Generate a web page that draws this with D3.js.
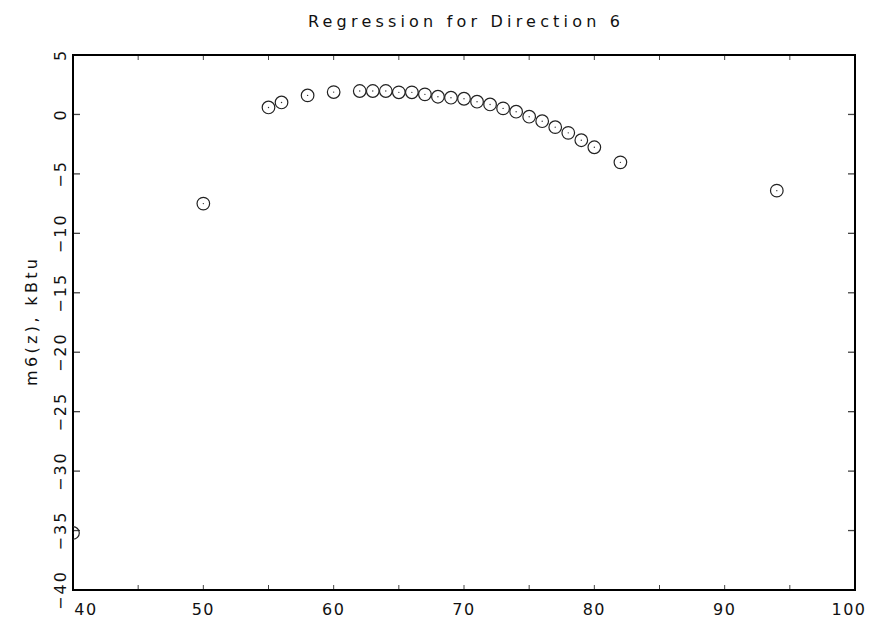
<!DOCTYPE html>
<html>
<head>
<meta charset="utf-8">
<script src="https://cdn.jsdelivr.net/npm/d3@7"></script>
<style>
  body { margin: 0; background: #fff; }
  text { font-family: "DejaVu Sans", sans-serif; fill: #111; }
</style>
</head>
<body>
<div id="chart"></div>
<script>
// data
var temps = [40, 50, 55, 56, 58, 60, 62, 63, 64, 65, 66, 67, 68, 69, 70, 71, 72, 73, 74, 75, 76, 77, 78, 79, 80, 82, 94];
var m6 = [-35.2, -7.5, 0.59, 1.01, 1.6, 1.88, 1.97, 1.97, 1.97, 1.86, 1.86, 1.69, 1.49, 1.41, 1.32, 1.07, 0.84, 0.51, 0.23,
          -0.19, -0.57, -1.07, -1.55, -2.17, -2.76, -4.03, -6.41];
var xTicks = [40, 50, 60, 70, 80, 90, 100];
var xMinor = [45, 55, 65, 75, 85, 95];
var yTicks = [-40, -35, -30, -25, -20, -15, -10, -5, 0, 5];
var title = "Regression for Direction 6";
var yTitle = "m6(z), kBtu";

var W = 877, H = 621;
var pLeft = 73, pRight = 855, pTop = 55, pBottom = 590;

var svg = d3.select("#chart").append("svg")
    .attr("width", W)
    .attr("height", H);

var x = d3.scaleLinear().domain([40, 100]).range([pLeft, pRight]);
var y = d3.scaleLinear().domain([-40, 5]).range([pBottom, pTop]);

svg.append("clipPath").attr("id", "clip")
  .append("rect")
    .attr("x", pLeft).attr("y", pTop)
    .attr("width", pRight - pLeft).attr("height", pBottom - pTop);

// ticks, all pointing inward
var tickCol = "#444";
xTicks.concat(xMinor).forEach(function(t) {
  svg.append("line").attr("x1", x(t)).attr("x2", x(t)).attr("y1", pBottom).attr("y2", pBottom - 5)
    .attr("stroke", tickCol).attr("stroke-width", 1);
  svg.append("line").attr("x1", x(t)).attr("x2", x(t)).attr("y1", pTop).attr("y2", pTop + 5)
    .attr("stroke", tickCol).attr("stroke-width", 1);
});
yTicks.forEach(function(t) {
  svg.append("line").attr("x1", pLeft).attr("x2", pLeft + 7).attr("y1", y(t)).attr("y2", y(t))
    .attr("stroke", tickCol).attr("stroke-width", 1.3);
  svg.append("line").attr("x1", pRight).attr("x2", pRight - 7).attr("y1", y(t)).attr("y2", y(t))
    .attr("stroke", tickCol).attr("stroke-width", 1.3);
});

// frame
svg.append("rect")
  .attr("x", pLeft).attr("y", pTop)
  .attr("width", pRight - pLeft).attr("height", pBottom - pTop)
  .attr("fill", "none")
  .attr("stroke", "#000")
  .attr("stroke-width", 2);

// x tick labels (ends nudged inside like the original)
xTicks.forEach(function(t, i) {
  var xx = x(t);
  if (i == 0) xx += 13;
  if (i == xTicks.length - 1) xx -= 6;
  svg.append("text")
    .attr("x", xx).attr("y", 615)
    .attr("text-anchor", "middle")
    .attr("font-size", 16)
    .attr("letter-spacing", 1.5)
    .text(t);
});

// y tick labels, rotated
yTicks.forEach(function(t) {
  var lab = t < 0 ? "\u2212" + Math.abs(t) : String(t);
  svg.append("text")
    .attr("transform", "translate(60," + y(t) + ") rotate(-90)")
    .attr("text-anchor", "middle")
    .attr("dominant-baseline", "central")
    .attr("font-size", 16)
    .attr("letter-spacing", 2)
    .text(lab);
});

// titles
svg.append("text")
  .attr("x", 464).attr("y", 27)
  .attr("text-anchor", "middle")
  .attr("font-size", 16)
  .attr("textLength", 312)
  .attr("lengthAdjust", "spacing")
  .text(title);

svg.append("text")
  .attr("transform", "translate(31," + ((pTop + pBottom) / 2) + ") rotate(-90)")
  .attr("text-anchor", "middle")
  .attr("dominant-baseline", "central")
  .attr("font-size", 16)
  .attr("textLength", 127)
  .attr("lengthAdjust", "spacing")
  .text(yTitle);

// points
var pts = svg.append("g").attr("clip-path", "url(#clip)");
pts.selectAll("circle.pt")
  .data(temps)
  .enter().append("circle")
    .attr("class", "pt")
    .attr("cx", function(d) { return x(d); })
    .attr("cy", function(d, i) { return y(m6[i]); })
    .attr("r", 6.3)
    .attr("fill", "none")
    .attr("stroke", "#222")
    .attr("stroke-width", 1.2);
pts.selectAll("circle.dot")
  .data(temps)
  .enter().append("circle")
    .attr("class", "dot")
    .attr("cx", function(d) { return x(d); })
    .attr("cy", function(d, i) { return y(m6[i]); })
    .attr("r", 0.7)
    .attr("fill", "#333");
</script>
</body>
</html>
